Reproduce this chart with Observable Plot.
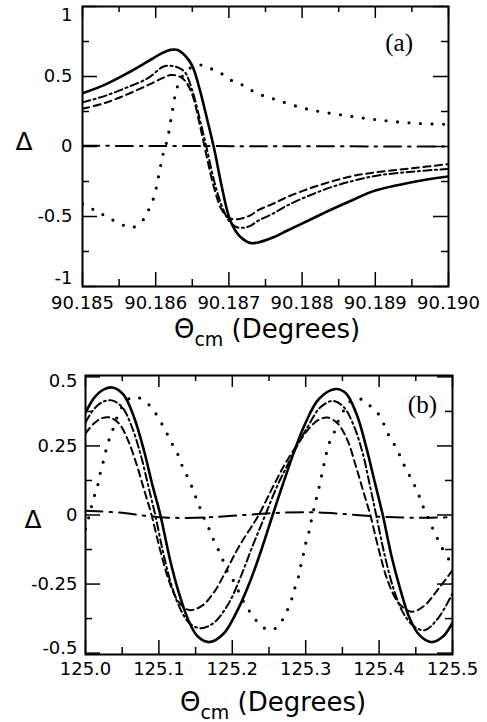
<!DOCTYPE html>
<html><head><meta charset="utf-8">
<script src="https://cdn.jsdelivr.net/npm/d3@7"></script>
<script src="https://cdn.jsdelivr.net/npm/@observablehq/plot@0.6"></script>
<style>body{margin:0;background:#fff}svg{display:block}</style>
</head><body>
<script>
// ---------- Panel (a) data ----------
const aX = [90.1850, 90.1853, 90.1856, 90.1859, 90.1861, 90.1862, 90.1863, 90.1864, 90.1865, 90.1866, 90.1867, 90.1868, 90.1869, 90.1870, 90.1871, 90.1872, 90.1873, 90.1874, 90.1876, 90.1878, 90.1881, 90.1884, 90.1887, 90.1890, 90.1895, 90.1900];
const aSolid = [0.38, 0.44, 0.52, 0.61, 0.67, 0.69, 0.69, 0.65, 0.576, 0.41, 0.20, -0.02, -0.28, -0.50, -0.61, -0.665, -0.69, -0.685, -0.65, -0.60, -0.525, -0.45, -0.38, -0.315, -0.255, -0.214];
const aDashDot = [0.315, 0.36, 0.42, 0.49, 0.57, 0.576, 0.565, 0.53, 0.40, 0.20, -0.02, -0.25, -0.42, -0.53, -0.575, -0.58, -0.565, -0.53, -0.48, -0.42, -0.35, -0.29, -0.245, -0.21, -0.18, -0.16];
const aDashed = [0.27, 0.31, 0.37, 0.44, 0.49, 0.51, 0.505, 0.47, 0.37, 0.16, -0.08, -0.30, -0.45, -0.51, -0.52, -0.51, -0.49, -0.455, -0.41, -0.36, -0.30, -0.25, -0.21, -0.185, -0.155, -0.126];
const aDotX = [90.1850, 90.18516, 90.18529, 90.18543, 90.18557, 90.18565, 90.18573, 90.18585, 90.18591, 90.18597, 90.18601, 90.18604, 90.18607, 90.18611, 90.18616, 90.1862, 90.18624, 90.18628, 90.18634, 90.18641, 90.18652, 90.18665, 90.18678, 90.18691, 90.18702, 90.18716, 90.18731, 90.18745, 90.18761, 90.18807, 90.18856, 90.18904, 90.18952, 90.1900];
const aDotY = [-0.41, -0.454, -0.49, -0.53, -0.565, -0.578, -0.57, -0.51, -0.445, -0.37, -0.29, -0.21, -0.13, -0.036, 0.05, 0.17, 0.29, 0.40, 0.48, 0.53, 0.576, 0.58, 0.55, 0.517, 0.476, 0.446, 0.40, 0.367, 0.34, 0.267, 0.224, 0.19, 0.167, 0.158];
const aFlatX = [90.185, 90.1875, 90.190];
const aFlatY = [0.005, 0.002, 0.0];
const aXTicks = [90.185, 90.186, 90.187, 90.188, 90.189, 90.190];
const aXTickLabels = ["90.185", "90.186", "90.187", "90.188", "90.189", "90.190"];
const aXMinor = [90.1855, 90.1865, 90.1875, 90.1885, 90.1895];
const aYTicks = [-1, -0.5, 0, 0.5, 1];
const aYTickLabels = ["-1", "-0.5", "0", "0.5", "1"];
const aYMinor = [-0.75, -0.25, 0.25, 0.75];

// ---------- Panel (b) data ----------
const bSolidX = [125.000, 125.012, 125.025, 125.038, 125.052, 125.066, 125.080, 125.091, 125.102, 125.115, 125.127, 125.140, 125.153, 125.169, 125.188, 125.207, 125.225, 125.241, 125.255, 125.270, 125.285, 125.300, 125.318, 125.341, 125.355, 125.370, 125.382, 125.394, 125.405, 125.417, 125.429, 125.441, 125.455, 125.471, 125.487, 125.500];
const bSolidY = [0.37, 0.425, 0.455, 0.461, 0.435, 0.355, 0.23, 0.11, 0.0, -0.16, -0.28, -0.38, -0.44, -0.46, -0.43, -0.345, -0.235, -0.115, 0.0, 0.12, 0.235, 0.335, 0.42, 0.456, 0.44, 0.36, 0.25, 0.12, 0.0, -0.15, -0.27, -0.37, -0.435, -0.46, -0.44, -0.39];
const bDashDotX = [125.000, 125.012, 125.024, 125.036, 125.050, 125.063, 125.076, 125.086, 125.095, 125.107, 125.119, 125.131, 125.143, 125.157, 125.175, 125.195, 125.212, 125.228, 125.245, 125.262, 125.277, 125.291, 125.305, 125.320, 125.337, 125.352, 125.366, 125.378, 125.388, 125.396, 125.408, 125.420, 125.432, 125.446, 125.462, 125.480, 125.500];
const bDashDotY = [0.335, 0.385, 0.41, 0.415, 0.39, 0.32, 0.21, 0.10, 0.0, -0.15, -0.27, -0.35, -0.395, -0.41, -0.39, -0.32, -0.22, -0.11, 0.0, 0.11, 0.19, 0.264, 0.33, 0.39, 0.413, 0.39, 0.32, 0.22, 0.10, 0.0, -0.15, -0.27, -0.35, -0.40, -0.417, -0.375, -0.284];
const bDashedX = [125.000, 125.011, 125.022, 125.033, 125.046, 125.058, 125.070, 125.080, 125.090, 125.102, 125.114, 125.127, 125.141, 125.158, 125.175, 125.192, 125.210, 125.236, 125.255, 125.273, 125.291, 125.305, 125.318, 125.330, 125.344, 125.357, 125.368, 125.378, 125.388, 125.400, 125.412, 125.427, 125.444, 125.461, 125.480, 125.500];
const bDashedY = [0.295, 0.33, 0.35, 0.353, 0.33, 0.27, 0.18, 0.09, 0.0, -0.13, -0.24, -0.315, -0.344, -0.33, -0.28, -0.20, -0.11, 0.0, 0.10, 0.19, 0.264, 0.315, 0.345, 0.353, 0.33, 0.27, 0.18, 0.09, 0.0, -0.13, -0.24, -0.32, -0.35, -0.33, -0.27, -0.20];
const bDotX = [125.000, 125.004, 125.011, 125.016, 125.019, 125.023, 125.027, 125.031, 125.036, 125.044, 125.052, 125.062, 125.073, 125.086, 125.095, 125.104, 125.111, 125.118, 125.126, 125.132, 125.139, 125.146, 125.151, 125.157, 125.163, 125.170, 125.176, 125.183, 125.189, 125.195, 125.202, 125.214, 125.223, 125.232, 125.242, 125.252, 125.263, 125.270, 125.276, 125.281, 125.285, 125.290, 125.293, 125.297, 125.300, 125.304, 125.307, 125.310, 125.314, 125.318, 125.323, 125.327, 125.332, 125.339, 125.343, 125.350, 125.360, 125.370, 125.378, 125.389, 125.400, 125.407, 125.414, 125.421, 125.428, 125.434, 125.441, 125.448, 125.455, 125.460, 125.466, 125.475, 125.485, 125.496, 125.500];
const bDotY = [-0.05, -0.013, 0.06, 0.10, 0.14, 0.18, 0.225, 0.264, 0.30, 0.36, 0.40, 0.425, 0.424, 0.40, 0.37, 0.33, 0.295, 0.258, 0.218, 0.176, 0.138, 0.095, 0.059, 0.019, -0.02, -0.06, -0.10, -0.137, -0.175, -0.214, -0.24, -0.308, -0.347, -0.38, -0.407, -0.417, -0.402, -0.371, -0.338, -0.304, -0.266, -0.226, -0.187, -0.141, -0.103, -0.066, -0.028, 0.008, 0.054, 0.097, 0.16, 0.21, 0.26, 0.30, 0.332, 0.37, 0.41, 0.42, 0.417, 0.392, 0.362, 0.326, 0.284, 0.254, 0.217, 0.181, 0.145, 0.109, 0.066, 0.03, -0.006, -0.06, -0.115, -0.165, -0.18];
const bFlatX = [125.0, 125.05, 125.1, 125.15, 125.2, 125.25, 125.3, 125.35, 125.4, 125.45, 125.5];
const bFlatY = [0.015, 0.008, -0.008, -0.01, -0.003, 0.006, 0.01, 0.004, -0.006, -0.01, -0.008];
const bXTicks = [125.0, 125.1, 125.2, 125.3, 125.4, 125.5];
const bXTickLabels = ["125.0", "125.1", "125.2", "125.3", "125.4", "125.5"];
const bXMinor = [125.05, 125.15, 125.25, 125.35, 125.45];
const bYTicks = [-0.5, -0.25, 0, 0.25, 0.5];
const bYTickLabels = ["-0.5", "-0.25", "0", "0.25", "0.5"];
const bYMinor = [-0.375, -0.125, 0.125, 0.375];

const FONT = "DejaVu Sans";
const styles = {
  solid: {strokeWidth: 2.6},
  dashed: {strokeWidth: 2, strokeDasharray: "7,4.5"},
  dashdot: {strokeWidth: 2, strokeDasharray: "8,3.5,2,3.5"},
  flat: {strokeWidth: 2, strokeDasharray: "17,7,2.5,7"},
  dotted: {strokeWidth: 3.2, strokeDasharray: "0,11.5", strokeLinecap: "round"}
};

function panel(c) {
  const fw = 487 - c.ml - c.mr, fh = c.h - c.mt - c.mb;
  const lab = (ticks, labels) => d => labels[ticks.indexOf(d)];
  const n = c.yTicks.length;
  const marks = [];
  for (const s of c.series) {
    marks.push(Plot.line(s.x, {x: s.x, y: s.y, curve: "catmull-rom", stroke: "black", clip: true, ...styles[s.style]}));
  }
  const tk = {stroke: "black", strokeWidth: 1.5};
  marks.push(
    Plot.tickX(c.xTicks, {x: d => d, insetTop: fh - 14, ...tk}),
    Plot.tickX(c.xMinor, {x: d => d, insetTop: fh - 7, ...tk}),
    Plot.tickX(c.xTicks, {x: d => d, insetBottom: fh - 12, ...tk}),
    Plot.tickX(c.xMinor, {x: d => d, insetBottom: fh - 6, ...tk}),
    Plot.tickY(c.yTicks, {y: d => d, insetRight: fw - 15, ...tk}),
    Plot.tickY(c.yMinor, {y: d => d, insetRight: fw - 7, ...tk}),
    Plot.tickY(c.yTicks, {y: d => d, insetLeft: fw - 15, ...tk}),
    Plot.tickY(c.yMinor, {y: d => d, insetLeft: fw - 7, ...tk}),
    Plot.frame({stroke: "black", strokeWidth: 2}),
    Plot.axisX(c.xTicks, {anchor: "bottom", tickSize: 0, tickPadding: c.xPad, tickFormat: lab(c.xTicks, c.xTickLabels), fontSize: 18, label: null, fill: "black"}),
    Plot.axisY(c.yTicks.slice(1, n - 1), {anchor: "left", tickSize: 0, tickPadding: c.yPad, tickFormat: lab(c.yTicks, c.yTickLabels), fontSize: 18, label: null, fill: "black"}),
    Plot.axisY([c.yTicks[0]], {anchor: "left", tickSize: 0, tickPadding: c.yPad, tickFormat: lab(c.yTicks, c.yTickLabels), fontSize: 18, label: null, fill: "black", dy: c.dyBottom}),
    Plot.axisY([c.yTicks[n - 1]], {anchor: "left", tickSize: 0, tickPadding: c.yPad, tickFormat: lab(c.yTicks, c.yTickLabels), fontSize: 18, label: null, fill: "black", dy: c.dyTop})
  );
  const svg = Plot.plot({
    width: 487, height: c.h,
    marginTop: c.mt, marginBottom: c.mb, marginLeft: c.ml, marginRight: c.mr,
    x: {domain: c.xDomain},
    y: {domain: c.yDomain},
    style: {fontFamily: FONT, color: "black", background: "white", overflow: "visible"},
    marks
  });
  const s = d3.select(svg);
  // axis title with subscript
  const t = s.append("text").attr("x", c.titleX).attr("y", c.titleY)
    .attr("text-anchor", "middle").attr("fill", "black")
    .style("font-family", FONT).style("font-size", "26px");
  t.append("tspan").text("Θ");
  t.append("tspan").attr("dy", 8).style("font-size", "19px").text("cm");
  t.append("tspan").attr("dy", -8).text(" (Degrees)");
  // Delta
  s.append("text").attr("x", c.deltaX).attr("y", c.deltaY).attr("text-anchor", "middle")
    .attr("fill", "black").style("font-family", FONT).style("font-size", "25px").text("Δ");
  // panel tag
  s.append("text").attr("x", c.tagX).attr("y", c.tagY).attr("text-anchor", "end")
    .attr("fill", "black").style("font-family", "Liberation Serif").style("font-size", "25px").text(c.tag);
  return svg;
}

const svgA = panel({
  h: 352, mt: 6, mb: 66, ml: 82, mr: 39,
  xDomain: [90.185, 90.190], yDomain: [-1, 1],
  xTicks: aXTicks, xTickLabels: aXTickLabels, xMinor: aXMinor,
  yTicks: aYTicks, yTickLabels: aYTickLabels, yMinor: aYMinor,
  xPad: 10, yPad: 10, dyTop: 9, dyBottom: -8,
  titleX: 267, titleY: 338, deltaX: 24, deltaY: 150, tagX: 413, tagY: 51, tag: "(a)",
  series: [
    {x: aFlatX, y: aFlatY, style: "flat"},
    {x: aDotX, y: aDotY, style: "dotted"},
    {x: aX, y: aDashed, style: "dashed"},
    {x: aX, y: aDashDot, style: "dashdot"},
    {x: aX, y: aSolid, style: "solid"}
  ]
});
const svgB = panel({
  h: 370, mt: 23, mb: 68, ml: 85, mr: 35,
  xDomain: [125.0, 125.5], yDomain: [-0.505, 0.505],
  xTicks: bXTicks, xTickLabels: bXTickLabels, xMinor: bXMinor,
  yTicks: bYTicks, yTickLabels: bYTickLabels, yMinor: bYMinor,
  xPad: 8, yPad: 8, dyTop: 4, dyBottom: -5,
  titleX: 273, titleY: 359, deltaX: 33, deltaY: 176, tagX: 437, tagY: 61, tag: "(b)",
  series: [
    {x: bFlatX, y: bFlatY, style: "flat"},
    {x: bDotX, y: bDotY, style: "dotted"},
    {x: bDashedX, y: bDashedY, style: "dashed"},
    {x: bDashDotX, y: bDashDotY, style: "dashdot"},
    {x: bSolidX, y: bSolidY, style: "solid"}
  ]
});
document.body.appendChild(svgA);
document.body.appendChild(svgB);
</script>
</body></html>
